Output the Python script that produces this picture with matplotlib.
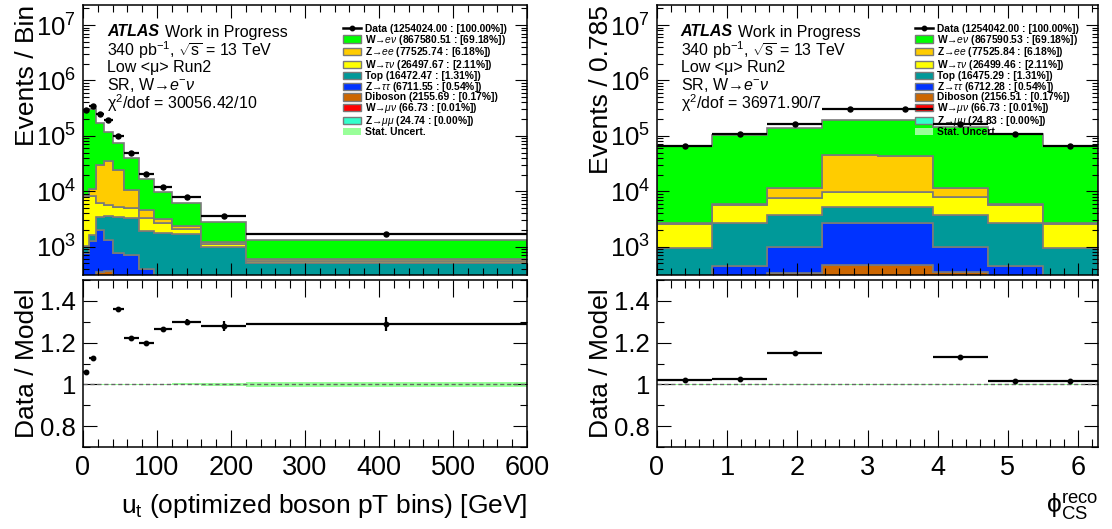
import numpy as np
import matplotlib
matplotlib.use("Agg")
import matplotlib.pyplot as plt
from matplotlib.patches import Patch
from matplotlib.lines import Line2D
from matplotlib.ticker import MultipleLocator, LogLocator, NullFormatter, FixedLocator, FormatStrFormatter

plt.rcParams['font.family'] = ['Liberation Sans', 'DejaVu Sans']
plt.rcParams['mathtext.fontset'] = 'custom'
plt.rcParams['mathtext.rm'] = 'Liberation Sans'
plt.rcParams['mathtext.it'] = 'Liberation Sans:italic'
plt.rcParams['mathtext.bf'] = 'Liberation Sans:bold'

# ---- u_t panel (left)
ut_edges = [0, 8, 18, 28, 40, 55, 75, 96, 120, 160, 220, 600]
ut_data = [293000, 347000, 248000, 194000, 101000, 48500, 20300, 12100, 7900, 3630, 1670]
ut_wev = [267400, 297000, 139200, 80300, 49800, 29250, 12300, 6450, 3710, 1600, 697]
ut_zee = [570, 2770, 23740, 30040, 18920, 5620, 1350, 480, 300, 110, 41]
ut_wtn = [7000, 6600, 2580, 2080, 1800, 1680, 1380, 900, 360, 120, 51]
ut_top = [241, 400, 1480, 2260, 2721, 2542, 1490, 1490, 1482, 835, 376]
ut_ztt = [594, 1012, 1660, 966, 491, 490, 215, 110, 98, 75, 55]
ut_dib = [165, 218, 340, 354, 268, 218, 165, 140, 120, 90, 70]
ut_wmn = [10, 10, 9, 8, 7, 6, 5, 4, 3, 2, 2]
ut_zmm = [3, 3, 3, 3, 3, 3, 2, 2, 1, 1, 0.7]
ut_ratio = [1.06, 1.125, np.nan, np.nan, 1.36, 1.22, 1.20, 1.265, 1.30, 1.28, 1.29]
ut_ratio_err = [0.003, 0.003, 0, 0, 0.005, 0.006, 0.009, 0.012, 0.015, 0.022, 0.032]
ut_stat = [0.001, 0.001, 0.001, 0.001, 0.001, 0.002, 0.002, 0.003, 0.005, 0.008, 0.012]
ut_yields = [1254024.00, 867580.51, 77525.74, 26497.67, 16472.47, 6711.55, 2155.69, 66.73, 24.74]
ut_pct = [100.00, 69.18, 6.18, 2.11, 1.31, 0.54, 0.17, 0.01, 0.00]
ut_chi2 = "30056.42/10"

# ---- phi_CS panel (right)
phi_edges = np.linspace(0, 2 * np.pi, 9)
phi_data = [66800, 108000, 162000, 310000, 310000, 161000, 108000, 66800]
phi_wev = [62800, 99200, 129500, 150700, 151000, 130500, 100000, 63100]
phi_zee = [80, 140, 3850, 34500, 34300, 3520, 140, 80]
phi_wtn = [1647, 3000, 3890, 4520, 4510, 4220, 3000, 1647]
phi_top = [703, 2224, 2770, 2620, 2640, 2770, 2224, 703]
phi_ztt = [150, 236, 673, 2211, 2190, 650, 236, 150]
phi_dib = [100, 200, 317, 449, 452, 340, 200, 100]
phi_wmn = [8, 8, 8, 9, 9, 8, 8, 8]
phi_zmm = [3, 3, 3, 3, 3, 3, 3, 3]
phi_ratio = [1.02, 1.025, 1.15, np.nan, np.nan, 1.13, 1.015, 1.015]
phi_ratio_err = [0.004, 0.003, 0.003, 0, 0, 0.003, 0.003, 0.004]
phi_stat = [0.002] * 8
phi_yields = [1254042.00, 867590.53, 77525.84, 26499.46, 16475.29, 6712.28, 2156.51, 66.73, 24.83]
phi_pct = [100.00, 69.18, 6.18, 2.11, 1.31, 0.54, 0.17, 0.01, 0.00]
phi_chi2 = "36971.90/7"

names = ["Data", "W\u2192$e\\nu$", "Z\u2192$ee$", "W\u2192$\\tau\\nu$", "Top",
         "Z\u2192$\\tau\\tau$", "Diboson", "W\u2192$\\mu\\nu$", "Z\u2192$\\mu\\mu$"]
colors = ["#00ff00", "#ffcc00", "#ffff00", "#009999", "#0033ff", "#cc6600", "#ff0000", "#33ffcc"]
stat_col = "#99ff99"
edge_col = "#7a7a7a"

fig = plt.figure(figsize=(11.12, 5.29), dpi=100)
W, H = 1112.0, 529.0


def px_axes(x0, x1, y0, y1):
    return fig.add_axes([x0 / W, 1 - y1 / H, (x1 - x0) / W, (y1 - y0) / H])


def style(ax, xmaj, xmin, top=True):
    ax.tick_params(which='both', direction='in', top=True, right=True, width=0.8)
    if top:
        ax.tick_params(which='major', axis='x', length=9)
        ax.tick_params(which='minor', axis='x', length=5)
        ax.tick_params(which='major', axis='y', length=8.5, labelsize=18.5, pad=5)
        ax.tick_params(which='minor', axis='y', length=4.3)
        ax.tick_params(axis='x', labelbottom=False)
    else:
        ax.tick_params(which='major', axis='x', length=12, labelsize=19.5, pad=6)
        ax.tick_params(which='minor', axis='x', length=6)
        ax.tick_params(which='major', axis='y', length=10, labelsize=18.5, pad=5)
        ax.tick_params(which='minor', axis='y', length=5)
    ax.xaxis.set_major_locator(MultipleLocator(xmaj))
    ax.xaxis.set_minor_locator(MultipleLocator(xmin))
    for s in ax.spines.values():
        s.set_linewidth(1.1)


def panel(x0, x1, edges, data, comps, ratio, rerr, stat, yields, pct, chi2, ylab, xlab, xmaj, xmin):
    edges = np.asarray(edges, float)
    centers = 0.5 * (edges[:-1] + edges[1:])
    halfw = 0.5 * np.diff(edges)

    ax = px_axes(x0, x1, 5, 275)
    rx = px_axes(x0, x1, 280, 447)

    # stack, bottom to top
    base = np.ones(len(centers))
    for vals, col in reversed(list(zip(comps, colors))):
        top = base + np.asarray(vals, float)
        ax.stairs(top, edges, baseline=base, fill=True, facecolor=col,
                  edgecolor=edge_col, linewidth=1.2)
        base = top
    ax.errorbar(centers, data, xerr=halfw, fmt='o', color='k', ms=3.6,
                elinewidth=1.6, capsize=0, zorder=6)
    ax.set_yscale('log')
    ax.set_ylim(308, 2.3e7)
    ax.set_xlim(edges[0], edges[-1])
    ax.yaxis.set_minor_locator(LogLocator(base=10, subs=np.arange(2, 10), numticks=20))
    ax.yaxis.set_minor_formatter(NullFormatter())
    style(ax, xmaj, xmin, top=True)
    ax.set_ylabel(ylab, fontsize=19, loc='top')
    ax.yaxis.set_label_coords(-0.1, 1.0)

    # text block
    tx, ty, dy = 0.054, 0.9, 0.066
    ax.text(tx, ty, "ATLAS", transform=ax.transAxes, fontsize=11.5, fontweight='bold',
            fontstyle='italic', va='center')
    ax.annotate("Work in Progress", xy=(tx, ty), xycoords='axes fraction', xytext=(41.5, 0),
                textcoords='offset points', fontsize=11.5, va='center')
    lines = [r"340 pb$^{-1}$, $\sqrt{\mathrm{s}}$ = 13 TeV",
             "Low <\u03bc> Run2",
             "SR, W\u2192$e^{-}\\nu$",
             "\u03c7$^{2}$/dof = " + chi2]
    for i, t in enumerate(lines):
        ax.text(tx, ty - (i + 1) * dy, t, transform=ax.transAxes, fontsize=11.5, va='center')

    # legend
    handles = [Line2D([], [], color='k', marker='o', ms=3.2, lw=1.8)]
    handles += [Patch(facecolor=c, edgecolor=edge_col, linewidth=1) for c in colors]
    handles += [Patch(facecolor=stat_col, edgecolor='none')]
    labels = ["%s (%.2f : [%.2f%%])" % (n, y, p) for n, y, p in zip(names, yields, pct)]
    labels += ["Stat. Uncert."]
    ax.legend(handles, labels, loc='upper left', bbox_to_anchor=(0.585, 0.93), frameon=False,
              prop={'size': 7.4, 'weight': 'bold'}, handlelength=1.8, handleheight=0.7,
              labelspacing=-0.12, handletextpad=0.35, borderpad=0, borderaxespad=0)

    # ratio
    st = np.asarray(stat, float)
    rx.stairs(1 + st, edges, baseline=1 - st, fill=True, color=stat_col, linewidth=0)
    rx.axhline(1.0, color='#666666', ls=(0, (3, 2)), lw=1.0)
    r = np.asarray(ratio, float)
    ok = ~np.isnan(r)
    rx.errorbar(centers[ok], r[ok], xerr=halfw[ok], yerr=np.asarray(rerr)[ok], fmt='o',
                color='k', ms=3.2, elinewidth=1.6, capsize=0, zorder=6)
    rx.set_xlim(edges[0], edges[-1])
    rx.set_ylim(0.7, 1.5)
    rx.yaxis.set_major_locator(FixedLocator([0.8, 1.0, 1.2, 1.4]))
    rx.yaxis.set_major_formatter(FormatStrFormatter('%g'))
    rx.yaxis.set_minor_locator(MultipleLocator(0.1))
    rx.xaxis.set_major_formatter(FormatStrFormatter('%g'))
    style(rx, xmaj, xmin, top=False)
    rx.set_ylabel("Data / Model", fontsize=19)
    rx.yaxis.set_label_coords(-0.1, 0.5)
    rx.set_xlabel(xlab, fontsize=19, loc='right')
    rx.xaxis.set_label_coords(1.0, -0.27)
    return ax, rx


panel(83, 527, ut_edges, ut_data,
      [ut_wev, ut_zee, ut_wtn, ut_top, ut_ztt, ut_dib, ut_wmn, ut_zmm],
      ut_ratio, ut_ratio_err, ut_stat, ut_yields, ut_pct, ut_chi2,
      "Events / Bin", r"u$_{\mathrm{t}}$ (optimized boson pT bins) [GeV]", 100, 20)
panel(657, 1098, phi_edges, phi_data,
      [phi_wev, phi_zee, phi_wtn, phi_top, phi_ztt, phi_dib, phi_wmn, phi_zmm],
      phi_ratio, phi_ratio_err, phi_stat, phi_yields, phi_pct, phi_chi2,
      "Events / 0.785", r"$\mathrm{\phi}^{\mathrm{reco}}_{\mathrm{CS}}$", 1, 0.2)

fig.savefig("out.png", dpi=100)
